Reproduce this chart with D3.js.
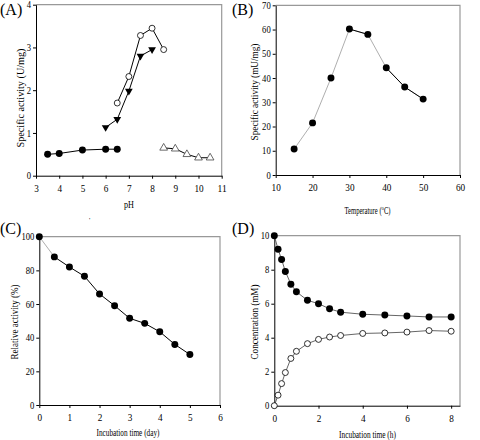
<!DOCTYPE html>
<html><head><meta charset="utf-8">
<script src="https://cdn.jsdelivr.net/npm/d3@7"></script>
<style>body{margin:0;background:#fff}svg{display:block}text{font-family:"Liberation Serif","Times New Roman",serif;fill:#000}</style>
</head><body>
<svg id="c" width="480" height="440"></svg>
<script>
// Panel A: pH
const phFilled = [[3.5,0.5],[4,0.52],[5,0.6],[6,0.62],[6.5,0.62]];
const phOpen = [[6.5,1.7],[7,2.32],[7.5,3.28],[8,3.45],[8.5,2.95]];
const phTriDown = [[6,1.13],[6.5,1.32],[7,1.98],[7.5,2.8],[8,2.95]];
const phTriOpen = [[8.5,0.65],[9,0.63],[9.5,0.5],[10,0.42],[10.5,0.42]];
const phTicksX = [3,4,5,6,7,8,9,10,11];
const phTicksY = [0,1,2,3,4];
// Panel B: temperature
const tempX = [15,20,25,30,35,40,45,50];
const tempY = [10.7,21.5,40,60.2,58,44.2,36.3,31.3];
const tempTicksX = [10,20,30,40,50,60];
const tempTicksY = [0,10,20,30,40,50,60,70];
// Panel C: stability
const dayX = [0,0.5,1,1.5,2,2.5,3,3.5,4,4.5,5];
const dayY = [100,88,82,76.5,66,59,51.5,48.5,43.5,36,30];
const dayTicksX = [0,1,2,3,4,5,6];
const dayTicksY = [0,20,40,60,80,100];
// Panel D: time course
const hX = [0,0.17,0.33,0.5,0.75,1,1.5,2,2.5,3,4,5,6,7,8];
const hFilled = [10,9.2,8.6,7.9,7.15,6.7,6.2,6.0,5.7,5.5,5.38,5.33,5.28,5.22,5.22];
const hOpen = [0,0.62,1.3,1.95,2.78,3.2,3.65,3.9,4.04,4.13,4.25,4.28,4.33,4.42,4.38];
const hTicksX = [0,2,4,6,8];
const hTicksY = [0,2,4,6,8,10];

const svg = d3.select("#c");

// squeeze a text element to a target width by horizontal scaling
function squeeze(t, cx, cy, target, rot){
  const w = t.node().getComputedTextLength();
  const s = target / w;
  t.attr("transform",`translate(${cx},${cy})${rot?" rotate(-90)":""} scale(${s},1)`);
}

function panel(o){
  const x = d3.scaleLinear().domain(o.xd).range([o.x0,o.x1]);
  const y = d3.scaleLinear().domain(o.yd).range([o.y0,o.y1]);
  const g = svg.append("g");
  g.append("path").attr("d",`M${o.x0},${o.y1}H${o.x1}V${o.y0}`).attr("fill","none").attr("stroke","#999").attr("stroke-width",1.2);
  const fmt = d3.format("d");
  const ax = g.append("g").attr("transform",`translate(0,${o.y0})`)
    .call(d3.axisBottom(x).tickValues(o.tx).tickFormat(fmt).tickSize(3).tickSizeOuter(0).tickPadding(6));
  const ay = g.append("g").attr("transform",`translate(${o.x0},0)`)
    .call(d3.axisLeft(y).tickValues(o.ty).tickFormat(fmt).tickSize(3).tickSizeOuter(0).tickPadding(2));
  [ax,ay].forEach(a=>{a.selectAll("text").attr("font-size",10).attr("font-family","Liberation Serif");a.select(".domain").attr("stroke","#000");});
  ax.selectAll(".tick text").each(function(){const t=d3.select(this);t.attr("textLength",t.text().length*4.6).attr("lengthAdjust","spacingAndGlyphs");});
  ay.selectAll(".tick text").each(function(){const t=d3.select(this);t.attr("textLength",t.text().length*4.3).attr("lengthAdjust","spacingAndGlyphs");});
  const xt = g.append("text").attr("text-anchor","middle").attr("font-size",10);
  if(o.xtitleFn) o.xtitleFn(xt); else xt.text(o.xtitle);
  squeeze(xt,o.xl[0],o.xl[1],o.xl[2],false);
  const yt = g.append("text").attr("text-anchor","middle").attr("font-size",10).text(o.ytitle);
  squeeze(yt,o.yl[0],o.yl[1],o.yl[2],true);
  g.append("text").attr("x",o.lab[0]).attr("y",o.lab[1]).attr("font-size",16).text(o.label);
  return {g,x,y};
}

function line(p,data,color,w){
  p.g.append("path").datum(data).attr("fill","none").attr("stroke",color).attr("stroke-width",w||1)
    .attr("d",d3.line().x(d=>p.x(d[0])).y(d=>p.y(d[1])));
}
function dots(p,data,type){
  const sel = p.g.append("g").selectAll("path").data(data).join("path")
    .attr("transform",d=>`translate(${p.x(d[0])},${p.y(d[1])})`);
  if(type==="filled") sel.attr("d",d3.symbol(d3.symbolCircle,38)).attr("fill","#000");
  if(type==="open") sel.attr("d",d3.symbol(d3.symbolCircle,28)).attr("fill","#fff").attr("stroke","#000").attr("stroke-width",0.8);
  if(type==="tridown") sel.attr("d",d3.symbol(d3.symbolTriangle,26)).attr("transform",d=>`translate(${p.x(d[0])},${p.y(d[1])}) rotate(180)`).attr("fill","#000");
  if(type==="triopen") sel.attr("d",d3.symbol(d3.symbolTriangle,26)).attr("fill","#fff").attr("stroke","#444").attr("stroke-width",0.8);
}

// A
const A = panel({xd:[3,11],yd:[0,4],x0:36,x1:221.7,y0:175.7,y1:4.7,tx:phTicksX,ty:phTicksY,
  xtitle:"pH",xl:[129,207.5,10],ytitle:"Specific activity (U/mg)",yl:[24,98,99],lab:[0,15],label:"(A)"});
line(A,phFilled,"#000");line(A,phOpen,"#000");line(A,phTriDown,"#000");line(A,phTriOpen,"#000");
dots(A,phFilled,"filled");dots(A,phOpen,"open");dots(A,phTriDown,"tridown");dots(A,phTriOpen,"triopen");
svg.append("text").attr("x",89).attr("y",222).attr("font-size",7).text("'");

// B
const tempPts = tempX.map((v,i)=>[v,tempY[i]]);
const B = panel({xd:[10,60],yd:[0,70],x0:275.7,x1:460,y0:175,y1:5.3,tx:tempTicksX,ty:tempTicksY,
  xtitleFn:t=>{t.append("tspan").text("Temperature (");t.append("tspan").attr("font-size",7).attr("dy",-4).text("o");t.append("tspan").attr("dy",4).text("C)");},
  xl:[367.5,213.5,46],ytitle:"Specific activity (mU/mg)",yl:[258,92,97],lab:[232,15],label:"(B)"});
line(B,tempPts,"#999",0.8);
line(B,tempPts.slice(3,5),"#000",1);line(B,tempPts.slice(5),"#000",1);
dots(B,tempPts,"filled");

// C
const dayPts = dayX.map((v,i)=>[v,dayY[i]]);
const C = panel({xd:[0,6],yd:[0,100],x0:39.3,x1:220,y0:405,y1:236.7,tx:dayTicksX,ty:dayTicksY,
  xtitle:"Incubation time (day)",xl:[128,435.5,63],ytitle:"Relative activity (%)",yl:[18,322,75],lab:[0,234],label:"(C)"});
line(C,dayPts.slice(0,2),"#999",0.8);line(C,dayPts.slice(1),"#000",1);
dots(C,dayPts,"filled");

// D
const dF = hX.map((v,i)=>[v,hFilled[i]]), dO = hX.map((v,i)=>[v,hOpen[i]]);
const D = panel({xd:[0,8.4],yd:[0,10],x0:274.3,x1:460,y0:405.7,y1:235.7,tx:hTicksX,ty:hTicksY,
  xtitle:"Incubation time (h)",xl:[367.5,437.5,57],ytitle:"Concentration (mM)",yl:[258,322,75],lab:[232,234],label:"(D)"});
line(D,dF,"#555",0.9);line(D,dO,"#555",0.9);
dots(D,dF,"filled");dots(D,dO,"open");
</script>
</body></html>
